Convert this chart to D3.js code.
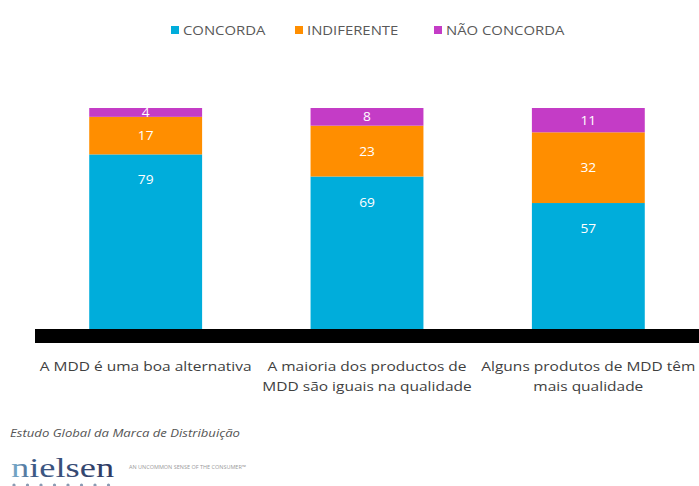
<!DOCTYPE html>
<html>
<head>
<meta charset="utf-8">
<script src="https://cdn.jsdelivr.net/npm/d3@7"></script>
<style>
  html, body { margin: 0; padding: 0; background: #fff; }
  svg { display: block; }
  text { font-family: "Open Sans", "Noto Sans", sans-serif; }
  text.logo { font-family: "Liberation Serif", "DejaVu Serif", serif; }
</style>
</head>
<body>
<svg id="chart" width="699" height="486"></svg>
<script>
// Survey answers per statement (percent)
const categories = [
  ["A MDD é uma boa alternativa"],
  ["A maioria dos productos de", "MDD são iguais na qualidade"],
  ["Alguns produtos de MDD têm", "mais qualidade"]
];
const seriesNames = ["CONCORDA", "INDIFERENTE", "NÃO CONCORDA"];
const concorda    = [79, 69, 57];
const indiferente = [17, 23, 32];
const naoConcorda = [4, 8, 11];

const colors = ["#00ADDB", "#FF8E00", "#C43CC6"];

const svg = d3.select("#chart");

const x = d3.scaleBand()
  .domain(d3.range(categories.length))
  .range([35, 699])
  .paddingInner(0.49)
  .paddingOuter(0.245);

const y = d3.scaleLinear().domain([0, 100]).range([329, 108]);

const rows = categories.map((c, i) => ({
  i, CONCORDA: concorda[i], INDIFERENTE: indiferente[i], "NÃO CONCORDA": naoConcorda[i]
}));
const stack = d3.stack().keys(seriesNames)(rows);

// helper: place a horizontally stretched text
function stretched(sel, tx, ty, s) {
  return sel.attr("transform", (d, i) => `translate(${tx(d, i)},${ty(d, i)}) scale(${s},1)`);
}

// stacked bars
const layers = svg.append("g").selectAll("g").data(stack).join("g")
  .attr("fill", (d, i) => colors[i]);
layers.selectAll("rect").data(d => d).join("rect")
  .attr("x", d => x(d.data.i))
  .attr("width", x.bandwidth())
  .attr("y", d => y(d[1]))
  .attr("height", d => y(d[0]) - y(d[1]));

// value labels
stack.forEach((layer, li) => {
  const t = svg.append("g").selectAll("text").data(layer).join("text")
    .attr("text-anchor", "middle")
    .attr("fill", "#fff")
    .attr("font-size", 12.5)
    .text(d => d[1] - d[0]);
  stretched(t,
    d => x(d.data.i) + x.bandwidth() / 2,
    d => li === 0 ? y(d[1]) + 30 : (y(d[0]) + y(d[1])) / 2 + 4.5, 1.1);
});

// baseline band
svg.append("g")
  .attr("transform", `translate(0,${y(0)})`)
  .call(d3.axisBottom(x).tickValues([]).tickSizeOuter(0))
  .call(g => g.select(".domain").attr("stroke", "#000").attr("stroke-width", 14)
    .attr("d", "M35,7H699"));

// category labels
const catG = svg.append("g");
categories.forEach((lines, i) => {
  const t = catG.selectAll(null).data(lines).join("text")
    .attr("text-anchor", "middle")
    .attr("fill", "#404040")
    .attr("font-size", 12.5)
    .text(d => d);
  stretched(t, () => x(i) + x.bandwidth() / 2, (d, j) => 371 + j * 20, 1.24);
});

// legend
const legendX = [171, 295, 434];
const lg = svg.append("g");
seriesNames.forEach((name, i) => {
  lg.append("rect").attr("x", legendX[i]).attr("y", 26).attr("width", 8).attr("height", 8)
    .attr("fill", colors[i]);
  lg.append("text")
    .attr("transform", `translate(${legendX[i] + 12},35) scale(1.24,1)`)
    .attr("fill", "#595959").attr("font-size", 12)
    .text(name);
});

// footer: source
svg.append("text")
  .attr("transform", "translate(10,437) scale(1.25,1)")
  .attr("font-size", 10.5).attr("font-style", "italic").attr("fill", "#555")
  .text("Estudo Global da Marca de Distribuição");

// footer: logo
const defs = svg.append("defs");
const grad = defs.append("linearGradient").attr("id", "logoGrad")
  .attr("x1", "0%").attr("x2", "100%").attr("y1", "0%").attr("y2", "0%");
grad.append("stop").attr("offset", "0%").attr("stop-color", "#7fb3d0");
grad.append("stop").attr("offset", "22%").attr("stop-color", "#3e5a86");
grad.append("stop").attr("offset", "100%").attr("stop-color", "#2e3a62");

svg.append("text").attr("class", "logo")
  .attr("transform", "translate(11,477) scale(1.3,1)")
  .attr("font-size", 28).attr("fill", "url(#logoGrad)")
  .text("nielsen");

svg.append("g").selectAll("circle").data(d3.range(8)).join("circle")
  .attr("cx", d => 14 + d * 13.5).attr("cy", 485).attr("r", 1.6)
  .attr("fill", "#8a9bb3");

svg.append("text")
  .attr("transform", "translate(129,469)")
  .attr("font-size", 5.5).attr("fill", "#9a9a9a")
  .text("AN UNCOMMON SENSE OF THE CONSUMER™");
</script>
</body>
</html>
